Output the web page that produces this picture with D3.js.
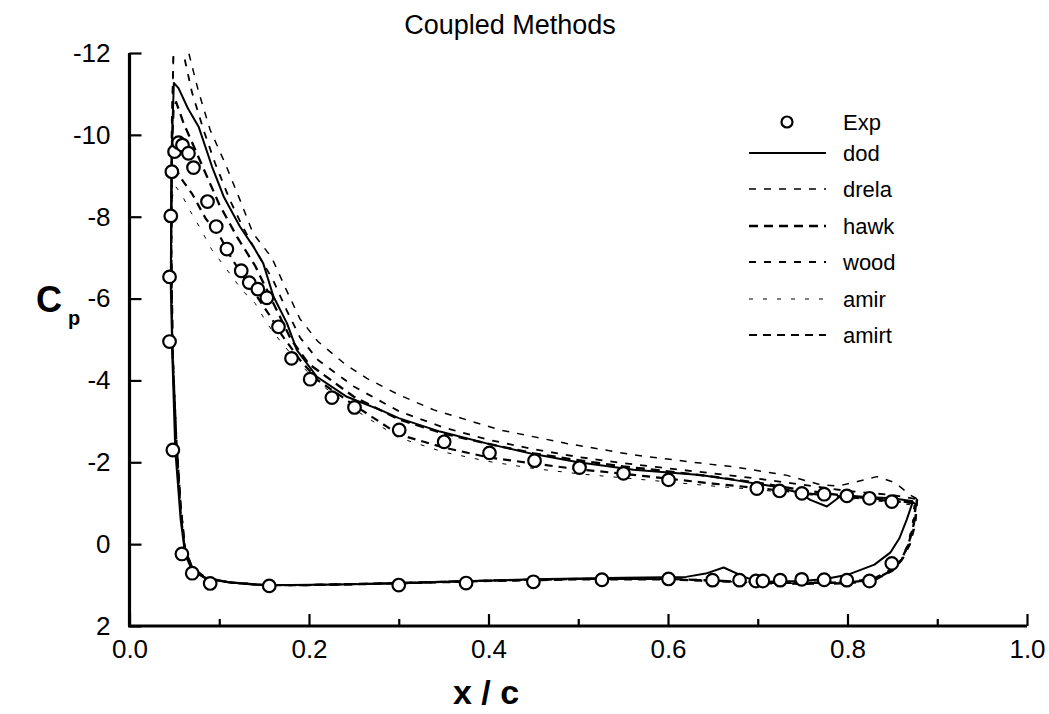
<!DOCTYPE html>
<html>
<head>
<meta charset="utf-8">
<script src="https://cdn.jsdelivr.net/npm/d3@7"></script>
<style>
  html, body { margin: 0; padding: 0; background: #fff; }
  svg { display: block; }
  text { font-family: "Liberation Sans", Arial, Helvetica, sans-serif; fill: #000; }
</style>
</head>
<body>
<svg id="chart" width="1049" height="714"></svg>
<script>
// ---------------- data ----------------
const title = "Coupled Methods";
const xTicksMajor = [0.0, 0.2, 0.4, 0.6, 0.8, 1.0];
const xTicksMinor = [0.1, 0.3, 0.5, 0.7, 0.9];
const yTicks = [-12, -10, -8, -6, -4, -2, 0, 2];
const legendNames = ["Exp", "dod", "drela", "hawk", "wood", "amir", "amirt"];

// experimental points [x/c, Cp]
const expData = [
  [0.0446,-4.95],[0.0446,-6.53],[0.046,-8.02],[0.0472,-9.10],[0.0502,-9.59],[0.0547,-9.81],
  [0.059,-9.75],[0.0657,-9.55],[0.0713,-9.20],[0.0869,-8.37],[0.0966,-7.76],[0.1085,-7.21],
  [0.1245,-6.68],[0.1334,-6.39],[0.143,-6.23],[0.153,-6.02],[0.166,-5.31],[0.1805,-4.54],
  [0.2013,-4.03],[0.2255,-3.58],[0.2507,-3.34],[0.3005,-2.79],[0.3506,-2.50],[0.4011,-2.23],
  [0.4513,-2.04],[0.5014,-1.87],[0.5504,-1.73],[0.6006,-1.57],[0.699,-1.36],[0.7243,-1.30],
  [0.7492,-1.24],[0.774,-1.22],[0.7993,-1.18],[0.8245,-1.12],[0.8494,-1.04],
  [0.0483,-2.30],[0.0584,0.24],[0.0699,0.71],[0.0899,0.96],[0.1557,1.02],[0.30,1.0],
  [0.375,0.95],[0.45,0.92],[0.5264,0.87],[0.6006,0.85],[0.6496,0.88],[0.6797,0.88],
  [0.698,0.9],[0.7057,0.9],[0.725,0.88],[0.749,0.86],[0.774,0.87],[0.7993,0.88],
  [0.8245,0.9],[0.8494,0.47]
];

// computed loops: lower surface (TE -> LE), then upper surface (LE -> TE)
const dod = [
  [0.873,-1.05],[0.866,-0.6],[0.858,-0.15],[0.848,0.2],[0.83,0.5],[0.80,0.75],[0.775,0.85],
  [0.75,0.9],[0.70,0.92],[0.685,0.8],[0.662,0.57],[0.642,0.72],[0.62,0.8],[0.55,0.82],
  [0.45,0.86],[0.35,0.92],[0.25,0.98],[0.18,1.0],[0.14,0.99],[0.11,0.93],[0.085,0.84],
  [0.07,0.65],[0.062,0.25],[0.057,-0.6],[0.051,-2.3],[0.048,-4.4],[0.046,-6.3],[0.0465,-8.5],
  [0.048,-10.3],[0.0494,-11.27],[0.0546,-11.14],[0.065,-10.65],[0.077,-10.2],[0.092,-9.22],
  [0.105,-8.49],[0.123,-7.76],[0.138,-7.27],[0.149,-6.86],[0.1604,-6.05],[0.1754,-5.4],
  [0.1865,-4.74],[0.2088,-4.09],[0.2422,-3.6],[0.2793,-3.28],[0.30,-3.08],[0.346,-2.75],
  [0.40,-2.45],[0.45,-2.2],[0.50,-2.0],[0.5616,-1.82],[0.636,-1.69],[0.673,-1.57],
  [0.72,-1.4],[0.747,-1.25],[0.7585,-1.08],[0.777,-0.92],[0.794,-1.2],[0.82,-1.15],
  [0.85,-1.12],[0.873,-1.05]
];
const drela = [
  [0.878,-1.1],[0.876,-0.5],[0.87,0.0],[0.862,0.35],[0.85,0.62],[0.83,0.85],[0.80,0.95],
  [0.75,0.96],[0.70,0.95],[0.65,0.9],[0.60,0.86],[0.50,0.86],[0.40,0.9],[0.30,0.96],
  [0.20,1.0],[0.15,1.0],[0.11,0.94],[0.085,0.83],[0.07,0.6],[0.062,0.2],[0.057,-0.8],
  [0.052,-2.5],[0.048,-4.6],[0.0465,-7.0],[0.047,-10.0],[0.049,-12.0],[0.053,-13.3],
  [0.058,-13.0],[0.066,-12.0],[0.077,-11.05],[0.0899,-10.12],[0.1066,-9.3],[0.1233,-8.4],
  [0.1375,-7.6],[0.1585,-7.0],[0.175,-6.2],[0.19,-5.5],[0.21,-4.95],[0.24,-4.4],
  [0.2645,-4.05],[0.30,-3.65],[0.339,-3.28],[0.413,-2.79],[0.487,-2.46],[0.5616,-2.18],
  [0.636,-1.98],[0.673,-1.89],[0.7325,-1.68],[0.77,-1.45],[0.79,-1.42],[0.811,-1.53],
  [0.833,-1.65],[0.853,-1.5],[0.87,-1.2],[0.878,-1.1]
];
const hawk = [
  [0.876,-1.0],[0.874,-0.5],[0.868,0.0],[0.86,0.38],[0.85,0.64],[0.83,0.86],[0.80,0.94],
  [0.75,0.95],[0.70,0.93],[0.65,0.89],[0.60,0.85],[0.50,0.85],[0.40,0.89],[0.30,0.95],
  [0.20,1.0],[0.15,1.0],[0.11,0.93],[0.085,0.82],[0.07,0.58],[0.062,0.15],[0.057,-0.9],
  [0.052,-2.6],[0.048,-4.7],[0.0465,-7.2],[0.047,-9.6],[0.049,-10.6],[0.052,-10.8],
  [0.06,-10.3],[0.07,-9.8],[0.08,-9.3],[0.10,-8.3],[0.12,-7.5],[0.14,-6.8],[0.16,-5.9],
  [0.18,-5.0],[0.20,-4.4],[0.25,-3.6],[0.30,-3.05],[0.35,-2.7],[0.40,-2.45],[0.45,-2.22],
  [0.50,-2.05],[0.55,-1.9],[0.60,-1.78],[0.65,-1.65],[0.70,-1.5],[0.75,-1.32],[0.80,-1.17],
  [0.85,-1.07],[0.876,-1.0]
];
const wood = [
  [0.877,-1.1],[0.875,-0.5],[0.869,0.0],[0.861,0.36],[0.85,0.6],[0.83,0.83],[0.80,0.93],
  [0.75,0.94],[0.70,0.93],[0.65,0.89],[0.60,0.85],[0.50,0.85],[0.40,0.89],[0.30,0.95],
  [0.20,1.0],[0.15,1.0],[0.11,0.93],[0.085,0.83],[0.07,0.6],[0.062,0.2],[0.057,-0.8],
  [0.052,-2.5],[0.048,-4.6],[0.0465,-7.0],[0.047,-10.2],[0.049,-12.0],[0.052,-12.7],
  [0.06,-12.0],[0.0695,-11.05],[0.0825,-10.12],[0.0955,-9.3],[0.112,-8.4],[0.126,-7.76],
  [0.14,-7.2],[0.16,-6.45],[0.175,-5.72],[0.19,-5.05],[0.21,-4.5],[0.25,-3.85],[0.30,-3.25],
  [0.35,-2.85],[0.40,-2.55],[0.45,-2.32],[0.50,-2.13],[0.55,-1.98],[0.60,-1.85],[0.65,-1.73],
  [0.70,-1.6],[0.75,-1.45],[0.80,-1.3],[0.85,-1.2],[0.877,-1.1]
];
const amir = [
  [0.874,-0.95],[0.872,-0.45],[0.866,0.05],[0.858,0.42],[0.848,0.66],[0.83,0.87],[0.80,0.95],
  [0.75,0.96],[0.70,0.94],[0.65,0.9],[0.60,0.86],[0.50,0.86],[0.40,0.9],[0.30,0.96],
  [0.20,1.0],[0.15,1.0],[0.11,0.94],[0.085,0.83],[0.07,0.6],[0.062,0.2],[0.057,-0.8],
  [0.052,-2.5],[0.048,-4.6],[0.0465,-7.0],[0.048,-8.5],[0.051,-8.75],[0.058,-8.55],
  [0.066,-8.2],[0.0788,-7.72],[0.0918,-7.19],[0.1047,-6.82],[0.1252,-6.21],[0.1401,-5.88],
  [0.153,-5.4],[0.17,-4.9],[0.19,-4.4],[0.21,-3.95],[0.25,-3.3],[0.30,-2.6],[0.35,-2.25],
  [0.40,-2.02],[0.45,-1.85],[0.50,-1.72],[0.55,-1.62],[0.60,-1.52],[0.65,-1.42],[0.70,-1.33],
  [0.75,-1.22],[0.80,-1.12],[0.85,-1.02],[0.874,-0.95]
];
const amirt = [
  [0.876,-1.0],[0.874,-0.5],[0.868,0.0],[0.86,0.4],[0.85,0.65],[0.83,0.88],[0.80,0.96],
  [0.75,0.97],[0.70,0.95],[0.65,0.9],[0.60,0.86],[0.50,0.86],[0.40,0.9],[0.30,0.96],
  [0.20,1.0],[0.15,1.0],[0.11,0.93],[0.085,0.82],[0.07,0.58],[0.062,0.15],[0.057,-0.9],
  [0.052,-2.6],[0.048,-4.7],[0.0465,-7.2],[0.047,-8.9],[0.049,-9.3],[0.057,-8.95],
  [0.07,-8.55],[0.085,-7.95],[0.10,-7.55],[0.112,-7.05],[0.129,-6.45],[0.142,-6.05],
  [0.157,-5.56],[0.17,-5.1],[0.19,-4.5],[0.21,-4.0],[0.25,-3.4],[0.30,-2.68],[0.35,-2.36],
  [0.40,-2.12],[0.45,-1.97],[0.50,-1.83],[0.55,-1.72],[0.60,-1.6],[0.65,-1.48],[0.70,-1.37],
  [0.75,-1.25],[0.80,-1.15],[0.85,-1.05],[0.876,-1.0]
];

// ---------------- drawing ----------------
const svg = d3.select("#chart");
svg.append("rect").attr("width", 1049).attr("height", 714).attr("fill", "#fff");

const x = d3.scaleLinear().domain([0, 1]).range([129.5, 1027]);
const y = d3.scaleLinear().domain([-12, 2]).range([53, 626]);

svg.append("defs").append("clipPath").attr("id", "plotclip")
  .append("rect")
  .attr("x", x(0)).attr("y", y(-12))
  .attr("width", x(1) - x(0)).attr("height", y(2) - y(-12));

const lineGen = d3.line().x(d => x(d[0])).y(d => y(d[1]));

const styles = {
  dod:   { w: 2.0, dash: null },
  drela: { w: 1.5, dash: "7,8" },
  hawk:  { w: 2.3, dash: "9,6" },
  wood:  { w: 1.8, dash: "7,8" },
  amir:  { w: 1.0, dash: "4,10" },
  amirt: { w: 2.2, dash: "8,6" }
};
const series = [
  ["amir", amir], ["drela", drela], ["wood", wood],
  ["amirt", amirt], ["hawk", hawk], ["dod", dod]
];

const plot = svg.append("g").attr("clip-path", "url(#plotclip)");
series.forEach(([name, data]) => {
  const st = styles[name];
  plot.append("path")
    .datum(data)
    .attr("d", lineGen)
    .attr("fill", "none")
    .attr("stroke", "#000")
    .attr("stroke-width", st.w)
    .attr("stroke-linejoin", "round")
    .attr("stroke-dasharray", st.dash);
});

plot.selectAll("circle.exp").data(expData).join("circle")
  .attr("class", "exp")
  .attr("cx", d => x(d[0])).attr("cy", d => y(d[1]))
  .attr("r", 6.3)
  .attr("fill", "#fff").attr("stroke", "#000").attr("stroke-width", 2.2);

// axes
const fontSize = 26;
const yAxis = svg.append("g").attr("transform", `translate(${x(0)},0)`)
  .call(d3.axisLeft(y).tickValues(yTicks).tickSizeInner(-12).tickSizeOuter(0)
    .tickPadding(19).tickFormat(d => String(d)));
const xAxisMinor = svg.append("g").attr("transform", `translate(0,${y(2)})`)
  .call(d3.axisBottom(x).tickValues(xTicksMinor).tickSizeInner(-7).tickSizeOuter(0)
    .tickFormat(""));
const xAxis = svg.append("g").attr("transform", `translate(0,${y(2)})`)
  .call(d3.axisBottom(x).tickValues(xTicksMajor).tickSizeInner(-12).tickSizeOuter(0)
    .tickPadding(14).tickFormat(d3.format(".1f")));

[yAxis, xAxis, xAxisMinor].forEach(g => {
  g.select(".domain").attr("stroke", "#000").attr("stroke-width", 3.2);
  g.selectAll(".tick line").attr("stroke", "#000").attr("stroke-width", 2.2);
  g.selectAll(".tick text").attr("font-size", fontSize)
    .attr("font-family", "'Liberation Sans', Arial, sans-serif").attr("fill", "#000");
});
xAxisMinor.select(".domain").remove();
yAxis.select(".domain").attr("d", `M0,${y(-12)}V${y(2)}`);
xAxis.select(".domain").attr("d", `M${x(0) - 1.5},0H${x(1)}`);

// title & axis labels
svg.append("text").attr("x", 510).attr("y", 34)
  .attr("text-anchor", "middle").attr("font-size", 27).text(title);

svg.append("text").attr("x", 486).attr("y", 704)
  .attr("text-anchor", "middle").attr("font-size", 34).attr("font-weight", "bold")
  .text("x / c");

const cp = svg.append("text").attr("x", 36).attr("y", 312)
  .attr("font-size", 36).attr("font-weight", "bold");
cp.append("tspan").text("C");
cp.append("tspan").attr("font-size", 20).attr("dx", 6).attr("dy", 13).text("p");

// legend
const legend = svg.append("g");
const legY = [122, 153, 189, 226, 262, 299, 335];
legendNames.forEach((name, i) => {
  const yy = legY[i];
  if (name === "Exp") {
    legend.append("circle").attr("cx", 787).attr("cy", yy).attr("r", 5.5)
      .attr("fill", "#fff").attr("stroke", "#000").attr("stroke-width", 2.2);
  } else {
    const st = styles[name];
    legend.append("line").attr("x1", 749).attr("x2", 826).attr("y1", yy).attr("y2", yy)
      .attr("stroke", "#000").attr("stroke-width", st.w)
      .attr("stroke-dasharray", st.dash);
  }
  legend.append("text").attr("x", 843).attr("y", yy + 8)
    .attr("font-size", 22).text(name);
});
</script>
</body>
</html>
